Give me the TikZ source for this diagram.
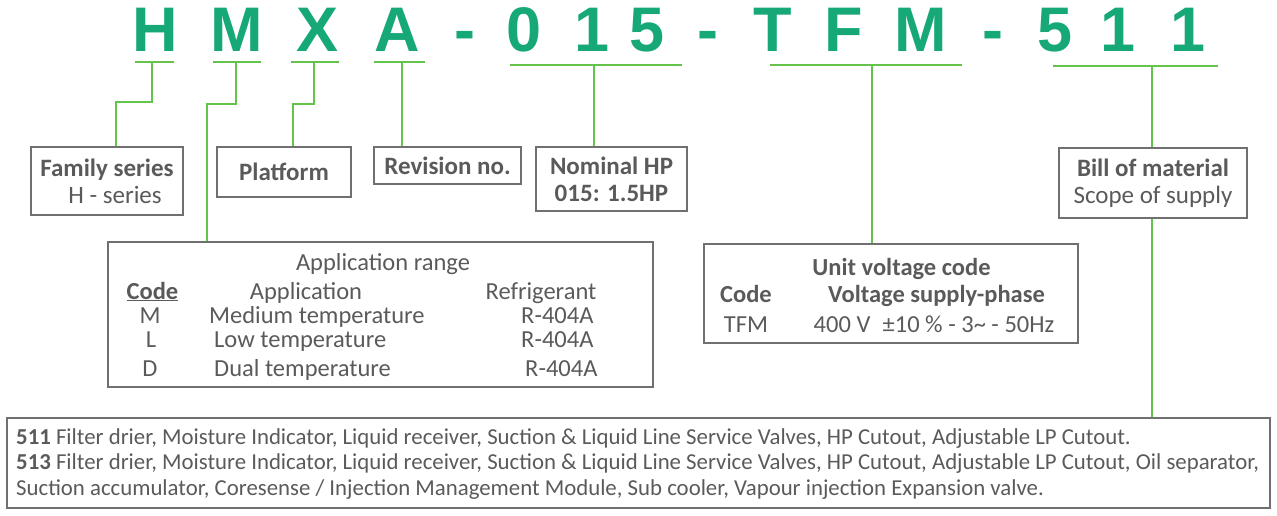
\documentclass[tikz,border=0pt]{standalone}
\usepackage{fontspec}
\setmainfont{Carlito}
\newfontfamily\codefont{Liberation Sans}
\usetikzlibrary{positioning}
\definecolor{codegreen}{HTML}{17A878}
\definecolor{linegreen}{HTML}{64C34B}
\definecolor{textgray}{HTML}{5A5A5A}
\definecolor{boxgray}{HTML}{707070}

\begin{document}
\begin{tikzpicture}
    [
        x=1pt, y=-1pt, inner sep=0pt,
        code_char/.style={font=\codefont\bfseries\fontsize{63}{63}\selectfont, text=codegreen, anchor=base},
        code_bar/.style={fill=linegreen, minimum height=2.6pt},
        green_line/.style={draw=linegreen, line width=2.4pt},
        gray_box/.style={draw=boxgray, line width=1.2pt, text=textgray, align=center, font=\fontsize{25}{27}\selectfont},
        box_text/.style={text=textgray, anchor=base, font=\fontsize{24.5}{27}\selectfont},
        list_text/.style={text=textgray, anchor=base west, font=\fontsize{22.8}{25}\selectfont},
    ]
        \useasboundingbox (0,0) rectangle (1277,515) ;
        \node[code_char] (cH) at (155,51) {H} ;
        \node[code_char] (cM) at (237,51) {M} ;
        \node[code_char] (cX) at (318,51) {X} ;
        \node[code_char] (cA) at (397,51) {A} ;
        \node[code_char] (dash1) at (465,51) {-} ;
        \node[code_char] (c0) at (524,51) {0} ;
        \node[code_char] (c1) at (592,51) {1} ;
        \node[code_char] (c5) at (647,51) {5} ;
        \node[code_char] (dash2) at (708,51) {-} ;
        \node[code_char] (cT) at (773,51) {T} ;
        \node[code_char] (cF) at (844,51) {F} ;
        \node[code_char] (cM2) at (921,51) {M} ;
        \node[code_char] (dash3) at (993,51) {-} ;
        \node[code_char] (c5b) at (1055,51) {5} ;
        \node[code_char] (c1b) at (1118,51) {1} ;
        \node[code_char] (c1c) at (1188,51) {1} ;
        \node[code_bar, minimum width=39] (barH) at (154.5,62) {} ;
        \node[code_bar, minimum width=48] (barM) at (237,62) {} ;
        \node[code_bar, minimum width=48] (barX) at (315,62) {} ;
        \node[code_bar, minimum width=51] (barA) at (399.5,62) {} ;
        \node[code_bar, minimum width=172] (barHP) at (596,65) {} ;
        \node[code_bar, minimum width=192] (barV) at (866,65) {} ;
        \node[code_bar, minimum width=165] (barB) at (1135.5,66) {} ;
        \node[gray_box, minimum width=152, minimum height=68] (family) at (107,181) {\textbf{Family series}\\\hspace*{16pt}H - series} ;
        \node[gray_box, minimum width=134, minimum height=50] (platform) at (284,172) {\textbf{Platform}} ;
        \node[gray_box, minimum width=147, minimum height=37] (revision) at (447.5,165.5) {\textbf{Revision no.}} ;
        \node[gray_box, minimum width=151, minimum height=64] (nominal) at (611.5,179) {\textbf{Nominal HP}\\\textbf{015: 1.5HP}} ;
        \node[gray_box, minimum width=188, minimum height=70] (bom) at (1153,183) {\textbf{Bill of material}\\Scope of supply} ;
        \node[gray_box, minimum width=545, minimum height=145] (app) at (380.5,314.5) {} ;
        \node[gray_box, minimum width=374, minimum height=99] (volt) at (891,293.5) {} ;
        \node[gray_box, minimum width=1263, minimum height=90] (list) at (638.5,463) {} ;
        \node[box_text] (apptitle) at (383,270) {Application range} ;
        \node[box_text] (appcode) at (152.5,299) {\textbf{\underline{Code}}} ;
        \node[box_text] (appcol) at (306,299) {Application} ;
        \node[box_text] (refcol) at (541,299) {Refrigerant} ;
        \node[box_text] (codeM) at (150,323) {M} ;
        \node[box_text, anchor=base west] (appM) at (209,323) {Medium temperature} ;
        \node[box_text, anchor=base west] (refM) at (521,323) {R-404A} ;
        \node[box_text] (codeL) at (151,347) {L} ;
        \node[box_text, anchor=base west] (appL) at (214,347) {Low temperature} ;
        \node[box_text, anchor=base west] (refL) at (521,347) {R-404A} ;
        \node[box_text] (codeD) at (150,376) {D} ;
        \node[box_text, anchor=base west] (appD) at (214,376) {Dual temperature} ;
        \node[box_text, anchor=base west] (refD) at (525,376) {R-404A} ;
        \node[box_text] (volttitle) at (901.5,275) {\textbf{Unit voltage code}} ;
        \node[box_text] (voltcode) at (746,302) {\textbf{Code}} ;
        \node[box_text] (voltcol) at (936.5,302) {\textbf{Voltage supply-phase}} ;
        \node[box_text] (voltTFM) at (746,332) {TFM} ;
        \node[box_text] (voltval) at (934,332) {400 V\enspace ±10 \% - 3\textasciitilde{} - 50Hz} ;
        \node[list_text] (row511) at (16,444) {\textbf{511} Filter drier, Moisture Indicator, Liquid receiver, Suction \& Liquid Line Service Valves, HP Cutout, Adjustable LP Cutout.} ;
        \node[list_text] (row513) at (16,469.5) {\textbf{513} Filter drier, Moisture Indicator, Liquid receiver, Suction \& Liquid Line Service Valves, HP Cutout, Adjustable LP Cutout, Oil separator,} ;
        \node[list_text] (row513b) at (16,495) {Suction accumulator, Coresense / Injection Management Module, Sub cooler, Vapour injection Expansion valve.} ;
        \coordinate (tH) at (152,62) ;
        \coordinate (kH) at (116,102) ;
        \coordinate (tM) at (236,62) ;
        \coordinate (kM) at (207,104) ;
        \coordinate (tX) at (314,62) ;
        \coordinate (kX) at (293,104) ;
        \coordinate (tA) at (402,62) ;
        \coordinate (tHP) at (594,65) ;
        \coordinate (tV) at (872,65) ;
        \coordinate (tB) at (1152,66) ;
        \draw[green_line] (tH) |- (kH) -- (kH |- family.north) ;
        \draw[green_line] (tM) |- (kM) -- (kM |- app.north) ;
        \draw[green_line] (tX) |- (kX) -- (kX |- platform.north) ;
        \draw[green_line] (tA) -- (tA |- revision.north) ;
        \draw[green_line] (tHP) -- (tHP |- nominal.north) ;
        \draw[green_line] (tV) -- (tV |- volt.north) ;
        \draw[green_line] (tB) -- (tB |- bom.north) ;
        \draw[green_line] (tB |- bom.south) -- (tB |- list.north) ;
    \end{tikzpicture}
\end{document}
